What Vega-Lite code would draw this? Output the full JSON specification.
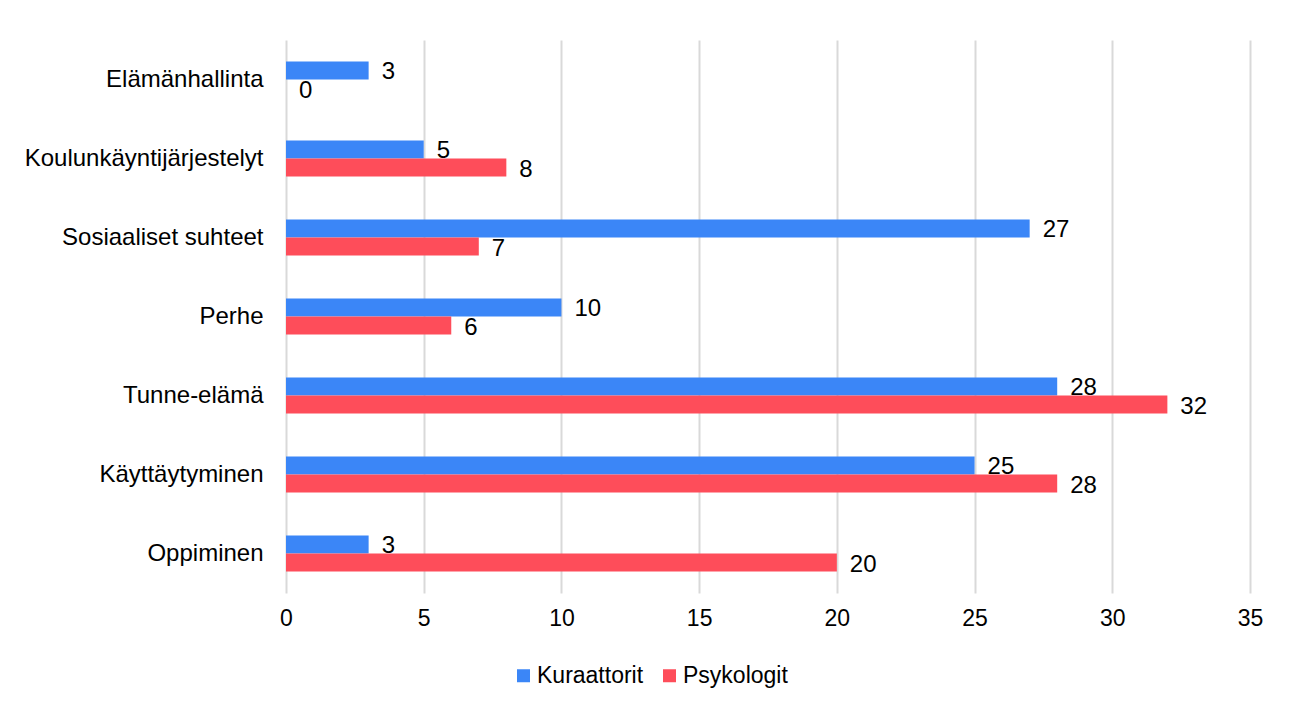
{
  "$schema": "https://vega.github.io/schema/vega-lite/v6.json",
  "width": 964,
  "height": 553,
  "autosize": {"type": "none"},
  "padding": {"left": 286, "top": 40, "right": 43, "bottom": 120},
  "background": "white",
  "config": {
    "font": "Liberation Sans",
    "view": {"stroke": null},
    "axis": {"labelFont": "Liberation Sans", "labelColor": "#000000"},
    "legend": {"labelFont": "Liberation Sans", "labelColor": "#000000"}
  },
  "data": {
    "values": [
      {"kategoria": "Elämänhallinta", "ryhmä": "Kuraattorit", "arvo": 3},
      {"kategoria": "Elämänhallinta", "ryhmä": "Psykologit", "arvo": 0},
      {"kategoria": "Koulunkäyntijärjestelyt", "ryhmä": "Kuraattorit", "arvo": 5},
      {"kategoria": "Koulunkäyntijärjestelyt", "ryhmä": "Psykologit", "arvo": 8},
      {"kategoria": "Sosiaaliset suhteet", "ryhmä": "Kuraattorit", "arvo": 27},
      {"kategoria": "Sosiaaliset suhteet", "ryhmä": "Psykologit", "arvo": 7},
      {"kategoria": "Perhe", "ryhmä": "Kuraattorit", "arvo": 10},
      {"kategoria": "Perhe", "ryhmä": "Psykologit", "arvo": 6},
      {"kategoria": "Tunne-elämä", "ryhmä": "Kuraattorit", "arvo": 28},
      {"kategoria": "Tunne-elämä", "ryhmä": "Psykologit", "arvo": 32},
      {"kategoria": "Käyttäytyminen", "ryhmä": "Kuraattorit", "arvo": 25},
      {"kategoria": "Käyttäytyminen", "ryhmä": "Psykologit", "arvo": 28},
      {"kategoria": "Oppiminen", "ryhmä": "Kuraattorit", "arvo": 3},
      {"kategoria": "Oppiminen", "ryhmä": "Psykologit", "arvo": 20}
    ]
  },
  "encoding": {
    "y": {
      "field": "kategoria",
      "type": "nominal",
      "sort": ["Elämänhallinta", "Koulunkäyntijärjestelyt", "Sosiaaliset suhteet", "Perhe", "Tunne-elämä", "Käyttäytyminen", "Oppiminen"],
      "scale": {"paddingInner": 0.544, "paddingOuter": 0.272},
      "axis": {"title": null, "domain": false, "ticks": false, "grid": false, "labelFontSize": 24, "labelPadding": 23, "labelLimit": 0}
    },
    "yOffset": {
      "field": "ryhmä",
      "type": "nominal",
      "sort": ["Kuraattorit", "Psykologit"],
      "scale": {"paddingInner": 0, "paddingOuter": 0}
    },
    "x": {
      "field": "arvo",
      "type": "quantitative",
      "scale": {"domain": [0, 35], "nice": false},
      "axis": {"title": null, "values": [0, 5, 10, 15, 20, 25, 30, 35], "domain": false, "ticks": false, "grid": true, "gridColor": "#d9d9d9", "gridWidth": 2, "labelFontSize": 23, "labelPadding": 14, "labelFlush": false}
    }
  },
  "layer": [
    {
      "mark": {"type": "bar"},
      "encoding": {
        "color": {
          "field": "ryhmä",
          "type": "nominal",
          "sort": ["Kuraattorit", "Psykologit"],
          "scale": {"domain": ["Kuraattorit", "Psykologit"], "range": ["#3b86f7", "#fe4d5a"]},
          "legend": {
            "title": null,
            "orient": "none",
            "legendX": 226,
            "legendY": 624,
            "direction": "horizontal",
            "symbolType": "square",
            "symbolSize": 169,
            "symbolStrokeWidth": 0,
            "labelFontSize": 23,
            "labelOffset": 2,
            "columnPadding": 14,
            "padding": 0,
            "labelLimit": 0
          }
        }
      }
    },
    {
      "mark": {"type": "text", "align": "left", "baseline": "middle", "dx": 13, "dy": 2, "fontSize": 24, "color": "#000000"},
      "encoding": {
        "text": {"field": "arvo", "type": "quantitative"}
      }
    }
  ]
}
